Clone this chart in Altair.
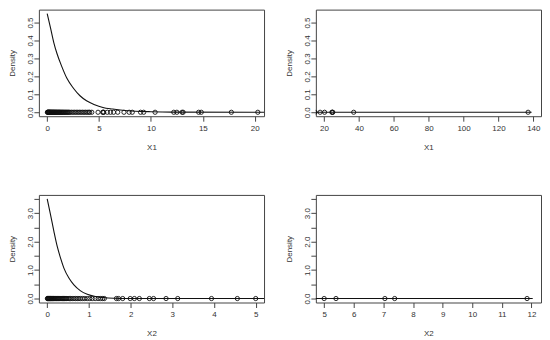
import altair as alt
import pandas as pd

# ---- data ----
X1 = [0.02, 0.05, 0.08, 0.11, 0.14, 0.17, 0.2, 0.23, 0.26, 0.3, 0.33, 0.37, 0.4, 0.44,
      0.48, 0.52, 0.56, 0.6, 0.64, 0.68, 0.72, 0.77, 0.81, 0.86, 0.9, 0.95, 1.0, 1.05,
      1.1, 1.15, 1.2, 1.26, 1.32, 1.38, 1.44, 1.5, 1.57, 1.64, 1.71, 1.78, 1.86, 1.94,
      2.02, 2.1, 2.2, 2.35, 2.5, 2.65, 2.8, 2.95, 3.1, 3.25, 3.4, 3.55, 3.7, 3.85, 4.0,
      4.1, 4.3, 4.9, 5.35, 5.4, 5.45, 5.8, 6.1, 6.4, 6.8, 7.4, 7.9, 8.2, 9.0, 9.3, 10.4,
      12.2, 12.5, 13.0, 13.1, 14.6, 14.85, 17.75, 20.3, 24.5, 24.8, 25.0, 37.0, 137.0]
X1_curve_x = [0.0, 0.32, 0.63, 0.95, 1.42, 1.9, 2.53, 3.16, 3.79, 4.58, 5.37, 6.32,
              7.27, 8.5, 10.0, 12.0, 20.0, 139.0]
X1_curve_y = [0.55, 0.47, 0.39, 0.326, 0.253, 0.189, 0.134, 0.092, 0.064, 0.042, 0.027,
              0.018, 0.011, 0.006, 0.003, 0.001, 0.0, 0.0]

X2 = [0.005, 0.012, 0.02, 0.028, 0.035, 0.043, 0.05, 0.058, 0.066, 0.074, 0.082, 0.09,
      0.1, 0.11, 0.12, 0.13, 0.14, 0.15, 0.16, 0.17, 0.185, 0.2, 0.215, 0.23, 0.245,
      0.26, 0.275, 0.29, 0.31, 0.33, 0.35, 0.37, 0.39, 0.41, 0.43, 0.45, 0.47, 0.5,
      0.53, 0.56, 0.6, 0.64, 0.68, 0.72, 0.76, 0.8, 0.85, 0.9, 0.96, 1.02, 1.08, 1.15,
      1.22, 1.28, 1.33, 1.37, 1.66, 1.71, 1.81, 1.99, 2.09, 2.21, 2.45, 2.55, 2.85,
      3.13, 3.94, 4.56, 5.0, 5.4, 7.05, 7.38, 11.85]
X2_curve_x = [0.0, 0.08, 0.16, 0.24, 0.32, 0.4, 0.52, 0.64, 0.8, 0.96, 1.16, 1.46, 2.0, 12.04]
X2_curve_y = [3.5, 2.94, 2.36, 1.83, 1.42, 1.07, 0.72, 0.48, 0.27, 0.15, 0.07, 0.02, 0.0, 0.0]

X1_ticks_left = [0, 5, 10, 15, 20]
X1_ticks_right = [20, 40, 60, 80, 100, 120, 140]
X2_ticks_left = [0, 1, 2, 3, 4, 5]
X2_ticks_right = [5, 6, 7, 8, 9, 10, 11, 12]
Y1_ticks = [0.0, 0.1, 0.2, 0.3, 0.4, 0.5]
Y2_ticks = [0.0, 0.5, 1.0, 1.5, 2.0, 2.5, 3.0, 3.5]


def panel(vals, cx, cy, xdom, ydom, xticks, yticks, xtitle, ylabel_expr, h):
    pts = pd.DataFrame({"x": vals, "y": [0.0] * len(vals)})
    cur = pd.DataFrame({"x": cx, "y": cy})
    xs = alt.Scale(domain=xdom, nice=False, zero=False)
    ys = alt.Scale(domain=ydom, nice=False, zero=False)
    xax = alt.Axis(values=xticks, tickCount=len(xticks) + 2, title=xtitle, format="d",
                   labelOverlap=False, labelFlush=False)
    yax = alt.Axis(values=yticks, tickCount=len(yticks) + 2, title="Density",
                   format=".1f", labelExpr=ylabel_expr,
                   labelOverlap=False, labelFlush=False)
    line = alt.Chart(cur).mark_line(
        color="#111", strokeWidth=1.1, clip=True, interpolate="monotone"
    ).encode(x=alt.X("x:Q", scale=xs, axis=xax), y=alt.Y("y:Q", scale=ys, axis=yax))
    points = alt.Chart(pts).mark_point(
        shape="circle", filled=False, size=18, color="#111", strokeWidth=0.9,
        opacity=1, clip=True
    ).encode(x=alt.X("x:Q", scale=xs), y=alt.Y("y:Q", scale=ys))
    return alt.layer(line, points).properties(width=226, height=h)


top_expr = "format(datum.value, '.1f')"
bot_expr = "(round(datum.value) == datum.value) ? format(datum.value, '.1f') : ''"

p1 = panel(X1, X1_curve_x, X1_curve_y, [-0.8, 20.9], [-0.022, 0.572],
           X1_ticks_left, Y1_ticks, "X1", top_expr, 107)
p2 = panel(X1, X1_curve_x, X1_curve_y, [15.3, 144.4], [-0.022, 0.572],
           X1_ticks_right, Y1_ticks, "X1", top_expr, 107)
p3 = panel(X2, X2_curve_x, X2_curve_y, [-0.2, 5.2], [-0.14, 3.64],
           X2_ticks_left, Y2_ticks, "X2", bot_expr, 108)
p4 = panel(X2, X2_curve_x, X2_curve_y, [4.72, 12.32], [-0.14, 3.64],
           X2_ticks_right, Y2_ticks, "X2", bot_expr, 108)

chart = alt.concat(
    p1, p2, p3, p4, columns=2,
    spacing=alt.RowColnumber(row=79, column=52), bounds="flush"
).properties(
    padding={"left": 0, "top": 0, "right": 0, "bottom": 0}
).configure_view(
    stroke="#444", strokeWidth=1
).configure_axis(
    domain=False, grid=False, tickColor="#444", tickSize=5, tickWidth=1,
    labelFont="Liberation Sans", labelFontSize=8, labelColor="#333",
    titleFont="Liberation Sans", titleFontSize=8, titleFontWeight="normal",
    titleColor="#333"
).configure_axisY(
    labelAngle=270, labelAlign="center", labelBaseline="alphabetic", labelPadding=1,
    titleAngle=270, titleX=-26, titleBaseline="middle"
).configure_axisX(
    labelPadding=3, titleY=31, titleBaseline="middle"
)

chart.save("out.html", embed_options={"renderer": "svg", "actions": False})
